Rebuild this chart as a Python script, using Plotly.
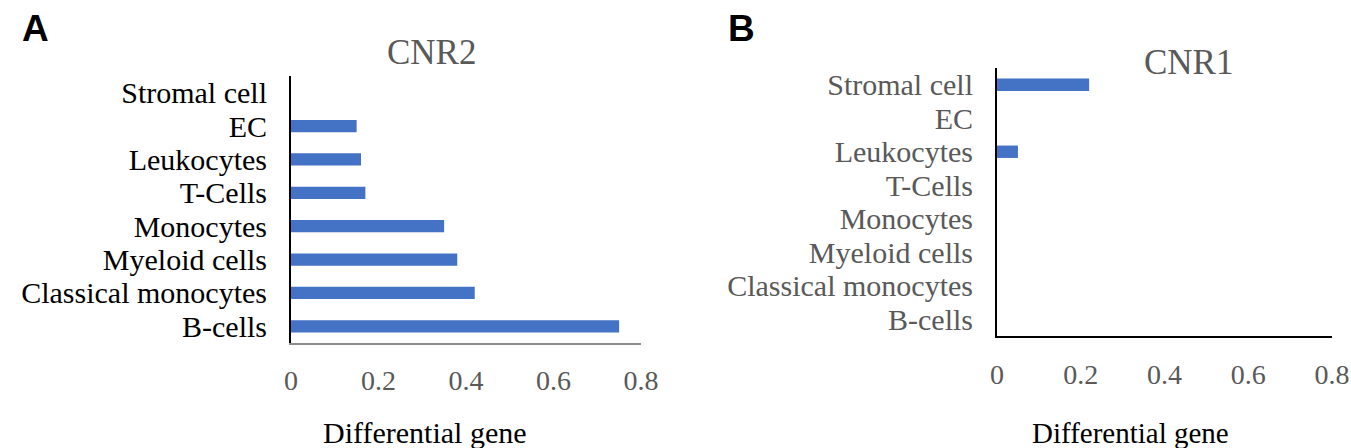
import plotly.graph_objects as go

categories = ["B-cells", "Classical monocytes", "Myeloid cells", "Monocytes",
              "T-Cells", "Leukocytes", "EC", "Stromal cell"]
cnr2_values = [0.75, 0.42, 0.38, 0.35, 0.17, 0.16, 0.15, 0.0]
cnr1_values = [0.0, 0.0, 0.0, 0.0, 0.0, 0.05, 0.0, 0.22]
x_tickvals = [0, 0.2, 0.4, 0.6, 0.8]
x_ticktext = ["0", "0.2", "0.4", "0.6", "0.8"]

W, H = 1351, 448
SERIF = "Liberation Serif"
LETTER_FONT = "Liberation Sans Narrow, Liberation Sans, Arial"
GRAY = "#595959"
BAR = "#4472C4"

def fx(px):
    return px / W

def fy(py):
    return 1 - py / H

fig = go.Figure()
fig.add_trace(go.Bar(x=cnr2_values, y=categories, orientation="h",
                     marker=dict(color=BAR, line=dict(width=0)), width=0.37,
                     xaxis="x", yaxis="y", showlegend=False))
fig.add_trace(go.Bar(x=cnr1_values, y=categories, orientation="h",
                     marker=dict(color=BAR, line=dict(width=0)), width=0.37,
                     xaxis="x2", yaxis="y2", showlegend=False))

common_x = dict(range=[0, 0.8], tickvals=x_tickvals, ticktext=x_ticktext,
                showgrid=False, zeroline=False, ticks="", showline=True,
                tickfont=dict(family=SERIF, size=28, color=GRAY),
                ticklabelstandoff=12, ticklabeloverflow="allow", fixedrange=True)
common_y = dict(type="category", categoryorder="array", categoryarray=categories,
                tickmode="array", tickvals=categories, ticktext=categories,
                range=[-0.5, 7.5], showgrid=False, zeroline=False, ticks="",
                showline=True, linecolor="black", linewidth=2,
                ticklabelstandoff=16, fixedrange=True)

fig.update_layout(
    width=W, height=H, autosize=False,
    margin=dict(l=0, r=0, t=0, b=0, autoexpand=False),
    paper_bgcolor="white", plot_bgcolor="white",
    xaxis=dict(domain=[fx(291), fx(641)], anchor="y",
               linecolor="#8c8c8c", linewidth=1.5, **common_x),
    yaxis=dict(domain=[fy(343), fy(76)], anchor="x",
               tickfont=dict(family=SERIF, size=30, color="black"), **common_y),
    xaxis2=dict(domain=[fx(997), fx(1332)], anchor="y2",
                linecolor="black", linewidth=2, **common_x),
    yaxis2=dict(domain=[fy(336), fy(68)], anchor="x2",
                tickfont=dict(family=SERIF, size=30, color=GRAY), **common_y),
    bargap=0.6,
)

annotations = [
    dict(text="<b>A</b>", x=fx(35), y=fy(28), font=dict(family=LETTER_FONT, size=37, color="black")),
    dict(text="<b>B</b>", x=fx(742), y=fy(28), font=dict(family=LETTER_FONT, size=37, color="black")),
    dict(text="CNR2", x=fx(432), y=fy(52), font=dict(family=SERIF, size=35, color=GRAY)),
    dict(text="CNR1", x=fx(1188), y=fy(62), font=dict(family=SERIF, size=35, color=GRAY)),
    dict(text="Differential gene", x=fx(425), y=fy(432), font=dict(family=SERIF, size=30, color="black")),
    dict(text="Differential gene", x=fx(1130), y=fy(433), font=dict(family=SERIF, size=29, color="black")),
]
for a in annotations:
    fig.add_annotation(xref="paper", yref="paper", showarrow=False,
                       xanchor="center", yanchor="middle", **a)

fig.write_html("out.html",
               config={"responsive": False, "displayModeBar": False},
               post_script="document.body.style.margin='0';document.body.style.overflow='hidden';")
